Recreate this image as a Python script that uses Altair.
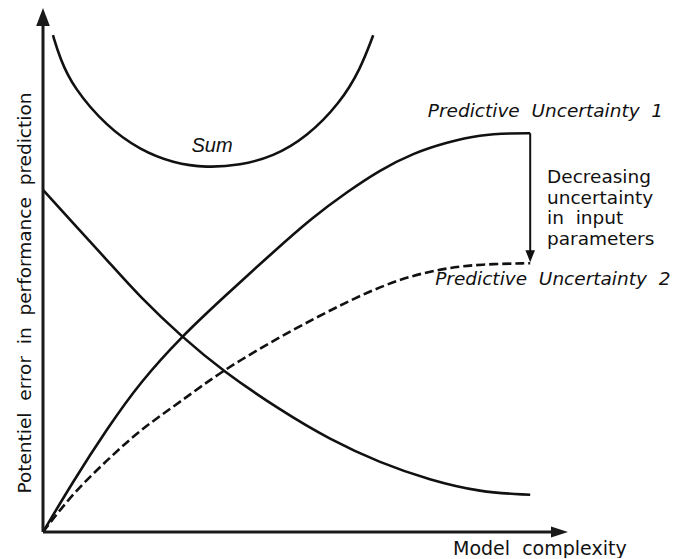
import altair as alt
import pandas as pd

# ---- data (x: model complexity 0-10, y: error 0-10) ----
sum_x = [0.19, 0.32, 0.57, 1.22, 1.85, 2.48, 3.12, 3.75, 4.38, 5.03, 5.66, 6.04, 6.29]
sum_y = [9.48, 9.05, 8.49, 7.73, 7.29, 7.04, 6.95, 7.00, 7.16, 7.54, 8.19, 8.82, 9.48]

pu1_x = [0.0, 0.57, 1.22, 1.85, 2.65, 3.43, 4.38, 5.14, 5.79, 6.42, 7.05, 7.70, 8.32, 8.95, 9.28]
pu1_y = [0.0, 0.96, 1.97, 2.86, 3.74, 4.47, 5.34, 6.01, 6.49, 6.91, 7.23, 7.44, 7.58, 7.61, 7.61]

pu2_x = [0.0, 0.57, 1.22, 1.85, 2.61, 3.43, 4.51, 5.18, 5.79, 6.42, 7.05, 7.70, 8.32, 9.28]
pu2_y = [0.0, 0.74, 1.37, 1.95, 2.48, 3.09, 3.72, 4.08, 4.39, 4.68, 4.90, 5.04, 5.11, 5.13]

dec_x = [0.0, 0.57, 1.22, 1.85, 2.65, 3.43, 4.51, 5.47, 6.42, 7.37, 8.32, 9.28]
dec_y = [6.53, 5.90, 5.19, 4.48, 3.72, 3.07, 2.33, 1.76, 1.32, 0.99, 0.76, 0.71]

NB = "\u00a0 "  # wide word gap as in the reference
label_pu1 = NB.join(["Predictive", "Uncertainty", "1"])
label_pu2 = NB.join(["Predictive", "Uncertainty", "2"])
label_sum = "Sum"
label_dec = "Decreasing\nuncertainty\nin" + NB + "input\nparameters"
x_title = NB.join(["Model", "complexity"])
y_title = NB.join(["Potentiel", "error", "in", "performance", "prediction"])

# ---- scales ----
xsc = alt.Scale(domain=[0, 10], nice=False, zero=False)
ysc = alt.Scale(domain=[0, 10], nice=False, zero=False)
INK = "#111111"
FONT = "DejaVu Sans"
one = pd.DataFrame({"k": [0]})


def X(v):
    return alt.XDatum(v, type="quantitative", scale=xsc)


def Y(v):
    return alt.YDatum(v, type="quantitative", scale=ysc)


def curve(xv, yv, dash=None):
    df = pd.DataFrame({"x": xv, "y": yv})
    kw = dict(color=INK, strokeWidth=2.6, interpolate="basis")
    if dash:
        kw["strokeDash"] = dash
    return alt.Chart(df).mark_line(**kw).encode(
        x=alt.X("x:Q", scale=xsc, axis=None),
        y=alt.Y("y:Q", scale=ysc, axis=None),
    )


lines = [
    curve(sum_x, sum_y),
    curve(pu1_x, pu1_y),
    curve(pu2_x, pu2_y, dash=[9, 4]),
    curve(dec_x, dec_y),
]

# axes with arrow heads
axis_color = "#1a1a1a"
x_axis = alt.Chart(one).mark_rule(color=axis_color, strokeWidth=3).encode(
    x=X(0), x2=alt.X2Datum(9.7), y=Y(0))
y_axis = alt.Chart(one).mark_rule(color=axis_color, strokeWidth=3).encode(
    x=X(0), y=Y(0), y2=alt.Y2Datum(9.7))
y_head = alt.Chart(one).mark_point(
    shape="M0,0L0.38,1L-0.38,1Z", size=1296, filled=True, color=axis_color, opacity=1
).encode(x=X(0), y=Y(10))
x_head = alt.Chart(one).mark_point(
    shape="M0,0L-1,-0.33L-1,0.33Z", size=1156, filled=True, color=axis_color, opacity=1
).encode(x=X(10), y=Y(0))

# annotation arrow between the two uncertainty curves
ann_rule = alt.Chart(one).mark_rule(color=INK, strokeWidth=2).encode(
    x=X(9.28), y=Y(7.61), y2=alt.Y2Datum(5.3))
ann_head = alt.Chart(one).mark_point(
    shape="M0,0L0.4,-1L-0.4,-1Z", size=576, filled=True, color=INK, opacity=1
).encode(x=X(9.28), y=Y(5.15))


def label(text, x, y, size, align="left", italic=False, angle=0, baseline="alphabetic",
          font=FONT, line_height=None):
    kw = dict(text=text, align=align, baseline=baseline, font=font, fontSize=size,
              color=INK, fontStyle="italic" if italic else "normal")
    if angle:
        kw["angle"] = angle
    if line_height:
        kw["lineBreak"] = "\n"
        kw["lineHeight"] = line_height
    return alt.Chart(one).mark_text(**kw).encode(x=X(x), y=Y(y))


texts = [
    label(label_sum, 3.22, 7.25, 20, align="center", italic=True, font="Liberation Sans"),
    label(label_pu1, 7.33, 7.92, 18.5, italic=True),
    label(label_pu2, 7.47, 4.71, 18.5, italic=True),
    label(label_dec, 9.6, 6.66, 18.5, line_height=20.7),
    label(x_title, 7.81, -0.44, 19),
    label(y_title, -0.34, 4.56, 18.5, align="center", angle=270, baseline="middle"),
]

chart = alt.layer(
    *lines, x_axis, y_axis, y_head, x_head, ann_rule, ann_head, *texts
).properties(
    width=525,
    height=524,
    autosize=alt.AutoSizeParams(type="none"),
    padding={"left": 35, "top": 0, "right": 102, "bottom": 26},
).configure_view(stroke=None)

chart.save("out.html", embed_options={"renderer": "svg", "actions": False})
